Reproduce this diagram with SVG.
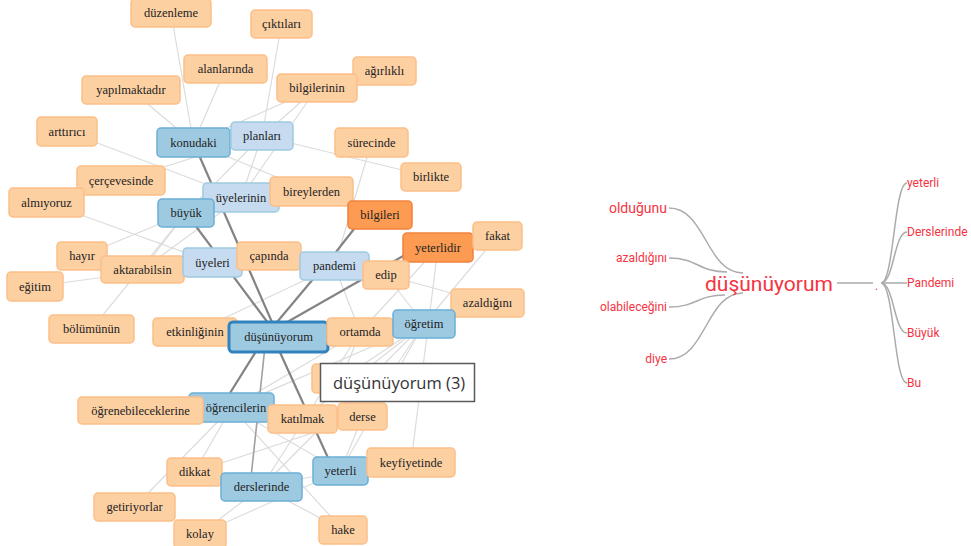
<svg xmlns="http://www.w3.org/2000/svg" width="971" height="546" viewBox="0 0 971 546">
<style>
.bg{fill:#fff}
.e{stroke:#dcdcdc;stroke-width:1.2;fill:none}
.em{stroke:#a0a0a0;stroke-width:1.6;fill:none}
.ed{stroke:#838383;stroke-width:2.2;fill:none}
.n rect{rx:4;ry:4;stroke-width:1.5}
.o rect{fill:#fdd0a2;stroke:#fbbf88}
.oo rect{fill:#fd9b52;stroke:#f2823c}
.b rect{fill:#9ecae1;stroke:#6baed6}
.lb rect{fill:#c6dbef;stroke:#9ecae1}
.n text{font-family:"Liberation Serif","DejaVu Serif",serif;font-size:12.5px;fill:#222;text-anchor:middle}
.w{font-family:Roboto,"Liberation Sans",sans-serif;fill:#f5333f}
.t{stroke:#ababab;stroke-width:1.5;fill:none}
</style>
<rect class="bg" x="0" y="0" width="971" height="546"/>
<g id="connectors">
<line class="e" x1="171" y1="13" x2="193.5" y2="142.5"/>
<line class="e" x1="131" y1="90" x2="193.5" y2="142.5"/>
<line class="e" x1="225.5" y1="69" x2="193.5" y2="142.5"/>
<line class="e" x1="281.5" y1="24" x2="262" y2="136"/>
<line class="e" x1="317" y1="88" x2="193.5" y2="142.5"/>
<line class="e" x1="317" y1="88" x2="262" y2="136"/>
<line class="e" x1="317" y1="88" x2="241" y2="197.5"/>
<line class="e" x1="262" y1="136" x2="431" y2="177"/>
<line class="e" x1="371.5" y1="142.5" x2="334.5" y2="266"/>
<line class="e" x1="67" y1="131.5" x2="241" y2="197.5"/>
<line class="e" x1="121" y1="180.5" x2="262" y2="136"/>
<line class="e" x1="46.5" y1="202.5" x2="212.5" y2="262.5"/>
<line class="e" x1="82" y1="256" x2="186" y2="213"/>
<line class="e" x1="35" y1="286.5" x2="212.5" y2="262.5"/>
<line class="e" x1="142.5" y1="269.5" x2="186" y2="213"/>
<line class="e" x1="142.5" y1="269.5" x2="241" y2="197.5"/>
<line class="e" x1="91.5" y1="329" x2="186" y2="213"/>
<line class="e" x1="195" y1="332" x2="334.5" y2="266"/>
<line class="e" x1="262" y1="136" x2="241" y2="197.5"/>
<line class="e" x1="262" y1="136" x2="186" y2="213"/>
<line class="e" x1="193.5" y1="142.5" x2="311.5" y2="191.5"/>
<line class="e" x1="386" y1="275" x2="424" y2="324"/>
<line class="e" x1="386" y1="275" x2="487.5" y2="303"/>
<line class="e" x1="438" y1="247.5" x2="411" y2="462.5"/>
<line class="e" x1="497.5" y1="236" x2="424" y2="324"/>
<line class="e" x1="424" y1="324" x2="362.5" y2="416.5"/>
<line class="e" x1="424" y1="324" x2="302.5" y2="419"/>
<line class="e" x1="424" y1="324" x2="340.5" y2="471"/>
<line class="e" x1="424" y1="324" x2="261.5" y2="487"/>
<line class="e" x1="424" y1="324" x2="231.5" y2="407.5"/>
<line class="e" x1="360" y1="332" x2="231.5" y2="407.5"/>
<line class="e" x1="360" y1="332" x2="261.5" y2="487"/>
<line class="e" x1="194.5" y1="472" x2="231.5" y2="407.5"/>
<line class="e" x1="134.5" y1="507" x2="231.5" y2="407.5"/>
<line class="e" x1="231.5" y1="407.5" x2="340.5" y2="471"/>
<line class="e" x1="261.5" y1="487" x2="340.5" y2="471"/>
<line class="e" x1="200" y1="534" x2="261.5" y2="487"/>
<line class="e" x1="200" y1="534" x2="340.5" y2="471"/>
<line class="e" x1="343" y1="530" x2="231.5" y2="407.5"/>
<line class="e" x1="343" y1="530" x2="261.5" y2="487"/>
<line class="e" x1="362.5" y1="416.5" x2="340.5" y2="471"/>
<line class="e" x1="194.5" y1="472" x2="362.5" y2="416.5"/>
<line class="e" x1="342" y1="378.5" x2="424" y2="324"/>
<line class="e" x1="342" y1="378.5" x2="360" y2="332"/>
<line class="e" x1="334.5" y1="266" x2="360" y2="332"/>
<line class="e" x1="438" y1="247.5" x2="360" y2="332"/>
<line class="ed" x1="193.5" y1="142.5" x2="278.5" y2="337"/>
<line class="ed" x1="186" y1="213" x2="278.5" y2="337"/>
<line class="ed" x1="324" y1="266" x2="264.5" y2="337"/>
<line class="ed" x1="261" y1="337" x2="418" y2="247.5"/>
<line class="ed" x1="325" y1="266" x2="365" y2="215"/>
<line class="ed" x1="265" y1="337" x2="221" y2="407.5"/>
<line class="em" x1="266" y1="337" x2="250" y2="487"/>
<line class="ed" x1="273" y1="337" x2="334" y2="471"/>
<path class="t" d="M669,208 C706,208 706,273 743,273"/>
<path class="t" d="M669,258 C698,258 698,272 727,272"/>
<path class="t" d="M669,307 C697,307 697,295 725,295"/>
<path class="t" d="M669,359 C706,359 706,293 743,293"/>
<line class="t" x1="837" y1="283" x2="873" y2="283"/>
<path class="t" d="M881,283 C894,283 894,183 907,183"/>
<path class="t" d="M881,283 C894,283 894,232 907,232"/>
<line class="t" x1="881" y1="283" x2="907" y2="283"/>
<path class="t" d="M881,283 C894,283 894,333 907,333"/>
<path class="t" d="M881,283 C894,283 894,383 907,383"/>
</g>
<g id="n-duzenleme" class="n o"><rect x="131" y="-1" width="80" height="28"/><text x="171" y="17">düzenleme</text></g>
<g id="n-ciktilari" class="n o"><rect x="251" y="10" width="61" height="28"/><text x="281.5" y="28">çıktıları</text></g>
<g id="n-alanlarinda" class="n o"><rect x="184" y="55" width="83" height="28"/><text x="225.5" y="73">alanlarında</text></g>
<g id="n-yapilmaktadir" class="n o"><rect x="82" y="76" width="98" height="28"/><text x="131" y="94">yapılmaktadır</text></g>
<g id="n-agirlikli" class="n o"><rect x="353" y="57" width="63" height="28"/><text x="384.5" y="75">ağırlıklı</text></g>
<g id="n-bilgilerinin" class="n o"><rect x="277" y="74" width="80" height="28"/><text x="317" y="92">bilgilerinin</text></g>
<g id="n-arttirici" class="n o"><rect x="37" y="117" width="60" height="29"/><text x="67" y="135.5">arttırıcı</text></g>
<g id="n-konudaki" class="n b"><rect x="157" y="128" width="73" height="29"/><text x="193.5" y="146.5">konudaki</text></g>
<g id="n-planlari" class="n lb"><rect x="231" y="122" width="62" height="28"/><text x="262" y="140">planları</text></g>
<g id="n-surecinde" class="n o"><rect x="335" y="128" width="73" height="29"/><text x="371.5" y="146.5">sürecinde</text></g>
<g id="n-birlikte" class="n o"><rect x="401" y="163" width="60" height="28"/><text x="431" y="181">birlikte</text></g>
<g id="n-cercevesinde" class="n o"><rect x="77" y="166" width="88" height="29"/><text x="121" y="184.5">çerçevesinde</text></g>
<g id="n-almiyoruz" class="n o"><rect x="9" y="188" width="75" height="29"/><text x="46.5" y="206.5">almıyoruz</text></g>
<g id="n-uyelerinin" class="n lb"><rect x="203" y="183" width="76" height="29"/><text x="241" y="201.5">üyelerinin</text></g>
<g id="n-buyuk" class="n b"><rect x="158" y="199" width="56" height="28"/><text x="186" y="217">büyük</text></g>
<g id="n-bireylerden" class="n o"><rect x="270" y="177" width="83" height="29"/><text x="311.5" y="195.5">bireylerden</text></g>
<g id="n-bilgileri" class="n oo"><rect x="348" y="201" width="64" height="28"/><text x="380" y="219">bilgileri</text></g>
<g id="n-hayir" class="n o"><rect x="57" y="242" width="50" height="28"/><text x="82" y="260">hayır</text></g>
<g id="n-aktarabilsin" class="n o"><rect x="101" y="256" width="83" height="27"/><text x="142.5" y="273.5">aktarabilsin</text></g>
<g id="n-egitim" class="n o"><rect x="7" y="272" width="56" height="29"/><text x="35" y="290.5">eğitim</text></g>
<g id="n-uyeleri" class="n lb"><rect x="183" y="248" width="59" height="29"/><text x="212.5" y="266.5">üyeleri</text></g>
<g id="n-capinda" class="n o"><rect x="237" y="242" width="64" height="28"/><text x="269" y="260">çapında</text></g>
<g id="n-pandemi" class="n lb"><rect x="300" y="252" width="69" height="28"/><text x="334.5" y="270">pandemi</text></g>
<g id="n-yeterlidir" class="n oo"><rect x="403" y="233" width="70" height="29"/><text x="438" y="251.5">yeterlidir</text></g>
<g id="n-fakat" class="n o"><rect x="473" y="222" width="49" height="28"/><text x="497.5" y="240">fakat</text></g>
<g id="n-edip" class="n o"><rect x="363" y="261" width="46" height="28"/><text x="386" y="279">edip</text></g>
<g id="n-azaldigini" class="n o"><rect x="451" y="289" width="73" height="28"/><text x="487.5" y="307">azaldığını</text></g>
<g id="n-bolumunun" class="n o"><rect x="49" y="315" width="85" height="28"/><text x="91.5" y="333">bölümünün</text></g>
<g id="n-etkinliginin" class="n o"><rect x="153" y="318" width="84" height="28"/><text x="195" y="336">etkinliğinin</text></g>
<g id="n-dusunuyorum" class="n b"><rect x="229" y="322" width="99" height="30" style="stroke:#3182bd;stroke-width:3"/><text x="278.5" y="341">düşünüyorum</text></g>
<g id="n-ortamda" class="n o"><rect x="327" y="318" width="66" height="28"/><text x="360" y="336">ortamda</text></g>
<g id="n-ogretim" class="n b"><rect x="393" y="310" width="62" height="28"/><text x="424" y="328">öğretim</text></g>
<g id="n-hidden" class="n o"><rect x="312" y="364" width="60" height="29"/></g>
<g id="n-ogrencilerin" class="n b"><rect x="189" y="393" width="85" height="29"/><text x="236" y="411.5">öğrencilerin</text></g>
<g id="n-ogrenebileceklerine" class="n o"><rect x="78" y="397" width="125" height="27"/><text x="140.5" y="414.5">öğrenebileceklerine</text></g>
<g id="n-katilmak" class="n o"><rect x="268" y="405" width="69" height="28"/><text x="302.5" y="423">katılmak</text></g>
<g id="n-derse" class="n o"><rect x="338" y="403" width="49" height="27"/><text x="362.5" y="420.5">derse</text></g>
<g id="n-dikkat" class="n o"><rect x="167" y="458" width="55" height="28"/><text x="194.5" y="476">dikkat</text></g>
<g id="n-derslerinde" class="n b"><rect x="221" y="473" width="81" height="28"/><text x="261.5" y="491">derslerinde</text></g>
<g id="n-yeterli" class="n b"><rect x="313" y="457" width="55" height="28"/><text x="340.5" y="475">yeterli</text></g>
<g id="n-keyfiyetinde" class="n o"><rect x="367" y="448" width="88" height="29"/><text x="411" y="466.5">keyfiyetinde</text></g>
<g id="n-getiriyorlar" class="n o"><rect x="94" y="493" width="81" height="28"/><text x="134.5" y="511">getiriyorlar</text></g>
<g id="n-kolay" class="n o"><rect x="174" y="520" width="52" height="28"/><text x="200" y="538">kolay</text></g>
<g id="n-hake" class="n o"><rect x="319" y="516" width="48" height="28"/><text x="343" y="534">hake</text></g>
<g id="tooltip"><rect x="320.5" y="363.5" width="154" height="38" fill="#fff" stroke="#5a5a5a" stroke-width="1.5"/><text x="333" y="389" style="font-family:'Open Sans','Noto Sans',sans-serif;font-size:16.5px;fill:#333">düşünüyorum (3)</text></g>
<g id="tree">
<text class="w" x="705" y="291" style="font-size:21px">düşünüyorum</text>
<text class="w" x="667" y="213" text-anchor="end" style="font-size:14px">olduğunu</text>
<text class="w" x="667" y="262" text-anchor="end" style="font-size:12px">azaldığını</text>
<text class="w" x="667" y="311" text-anchor="end" style="font-size:12px">olabileceğini</text>
<text class="w" x="667" y="363" text-anchor="end" style="font-size:12px">diye</text>
<text class="w" x="875" y="290" style="font-size:12px">.</text>
<text class="w" x="907" y="187" style="font-size:12px">yeterli</text>
<text class="w" x="907" y="236" style="font-size:12px">Derslerinde</text>
<text class="w" x="907" y="287" style="font-size:12px">Pandemi</text>
<text class="w" x="907" y="337" style="font-size:12px">Büyük</text>
<text class="w" x="907" y="387" style="font-size:12px">Bu</text>
</g>
</svg>
